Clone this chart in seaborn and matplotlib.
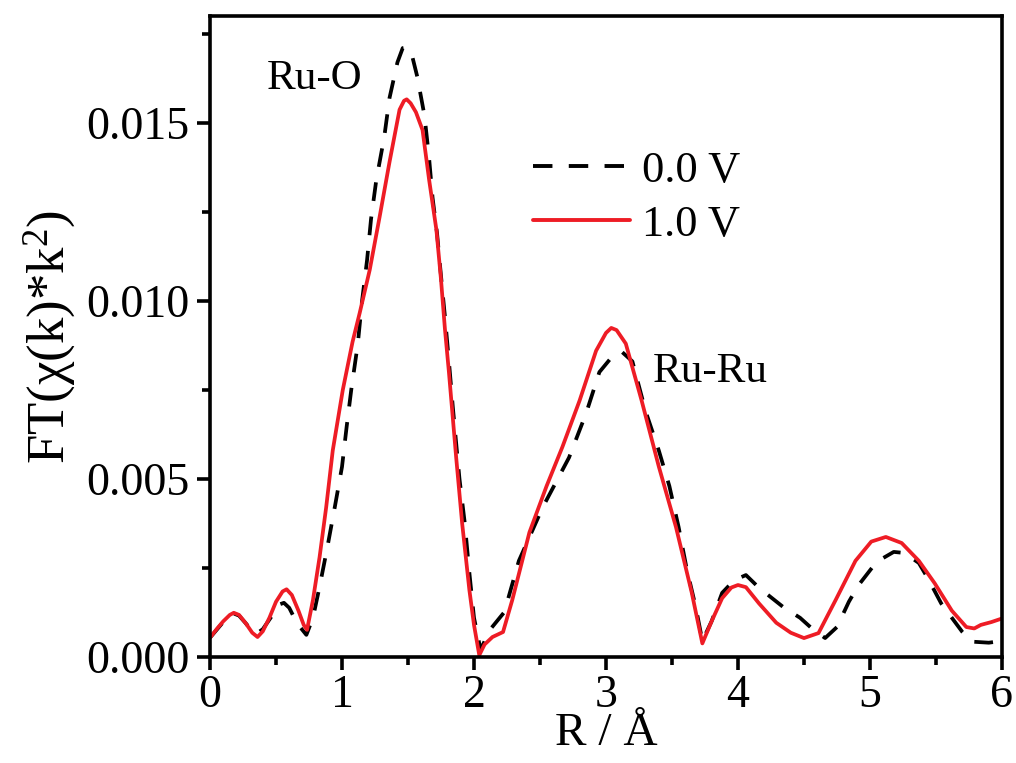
import numpy as np
import pandas as pd
import matplotlib
matplotlib.use("Agg")
import matplotlib.pyplot as plt
import seaborn as sns

# Fourier-transformed EXAFS magnitude, |FT(chi(k)*k^2)|, versus radial distance R (Å)
r_10v = [0.00, 0.05, 0.10, 0.15, 0.18, 0.22, 0.27, 0.32, 0.36, 0.40, 0.45, 0.50,
         0.55, 0.58, 0.62, 0.67, 0.71, 0.735, 0.78, 0.83, 0.88, 0.93, 1.006, 1.08,
         1.134, 1.21, 1.285, 1.36, 1.436, 1.47, 1.49, 1.52, 1.56, 1.61, 1.66, 1.715,
         1.75, 1.78, 1.81, 1.865, 1.91, 1.965, 2.00, 2.04, 2.08, 2.14, 2.22, 2.29,
         2.42, 2.55, 2.67, 2.80, 2.925, 3.00, 3.04, 3.08, 3.15, 3.27, 3.40, 3.53,
         3.65, 3.73, 3.80, 3.88, 3.95, 4.00, 4.06, 4.16, 4.29, 4.40, 4.50, 4.61,
         4.74, 4.89, 5.01, 5.12, 5.24, 5.37, 5.49, 5.62, 5.73, 5.79, 5.84, 5.92, 6.00]
ft_10v = [0.54, 0.78, 1.00, 1.18, 1.24, 1.18, 0.95, 0.68, 0.56, 0.72, 1.10, 1.55,
          1.84, 1.90, 1.74, 1.30, 0.90, 0.76, 1.60, 2.80, 4.20, 5.80, 7.50, 8.85,
          9.66, 10.87, 12.36, 13.90, 15.37, 15.62, 15.66, 15.55, 15.30, 14.80, 13.40, 12.00,
          10.60, 9.20, 8.00, 5.60, 3.76, 1.88, 0.90, 0.05, 0.35, 0.56, 0.70, 1.60,
          3.50, 4.80, 5.90, 7.20, 8.60, 9.10, 9.24, 9.18, 8.80, 7.20, 5.35, 3.65,
          1.80, 0.38, 1.00, 1.65, 1.95, 2.02, 1.96, 1.50, 0.96, 0.68, 0.53, 0.67,
          1.60, 2.70, 3.24, 3.37, 3.20, 2.70, 2.07, 1.30, 0.84, 0.80, 0.90, 0.98, 1.08]

r_00v = [0.00, 0.05, 0.10, 0.15, 0.18, 0.22, 0.27, 0.32, 0.355, 0.40, 0.45, 0.53,
         0.56, 0.60, 0.63, 0.68, 0.73, 0.78, 0.83, 0.89, 0.945, 1.00, 1.035, 1.07,
         1.12, 1.15, 1.19, 1.22, 1.26, 1.32, 1.36, 1.42, 1.46, 1.49, 1.53, 1.57,
         1.625, 1.66, 1.686, 1.72, 1.75, 1.78, 1.81, 1.84, 1.89, 1.93, 1.965, 2.00,
         2.05, 2.12, 2.23, 2.34, 2.52, 2.72, 2.85, 2.95, 3.05, 3.12, 3.20, 3.30,
         3.40, 3.48, 3.55, 3.61, 3.68, 3.73, 3.80, 3.88, 3.97, 4.06, 4.16, 4.35,
         4.47, 4.56, 4.66, 4.75, 4.84, 4.91, 5.05, 5.18, 5.26, 5.37, 5.44, 5.54,
         5.62, 5.70, 5.77, 5.90, 6.00]
ft_00v = [0.54, 0.76, 0.98, 1.16, 1.22, 1.16, 0.95, 0.72, 0.66, 0.78, 1.05, 1.48,
          1.52, 1.38, 1.16, 0.85, 0.62, 1.10, 1.97, 3.10, 4.20, 5.34, 6.46, 7.50,
          8.80, 9.94, 11.15, 12.30, 13.40, 14.60, 15.70, 16.70, 17.10, 17.12, 16.90, 16.30,
          15.20, 14.00, 12.90, 11.90, 10.70, 9.55, 8.30, 7.00, 5.00, 3.76, 2.36, 1.10,
          0.20, 0.76, 1.26, 2.70, 4.20, 5.60, 6.85, 8.00, 8.45, 8.57, 8.30, 6.90,
          5.80, 4.80, 3.65, 2.50, 1.40, 0.45, 1.00, 1.80, 2.15, 2.30, 1.94, 1.38,
          1.10, 0.80, 0.53, 0.84, 1.55, 2.00, 2.67, 2.95, 2.92, 2.64, 2.20, 1.50,
          1.10, 0.70, 0.43, 0.40, 0.45]

series_labels = ["0.0 V", "1.0 V"]
x_ticks = [0, 1, 2, 3, 4, 5, 6]
y_ticks = [0.000, 0.005, 0.010, 0.015]

df = pd.concat([
    pd.DataFrame({"R": r_00v, "FT": np.array(ft_00v) * 1e-3, "Potential": series_labels[0]}),
    pd.DataFrame({"R": r_10v, "FT": np.array(ft_10v) * 1e-3, "Potential": series_labels[1]}),
], ignore_index=True)

sns.set_style("ticks")
plt.rcParams["font.family"] = ["Liberation Serif", "DejaVu Serif"]
plt.rcParams["mathtext.fontset"] = "custom"
plt.rcParams["mathtext.rm"] = "Liberation Serif"
plt.rcParams["mathtext.it"] = "Liberation Serif:italic"
plt.rcParams["text.color"] = "black"
plt.rcParams["axes.labelcolor"] = "black"
plt.rcParams["xtick.color"] = "black"
plt.rcParams["ytick.color"] = "black"
plt.rcParams["lines.solid_joinstyle"] = "round"
plt.rcParams["lines.dash_joinstyle"] = "round"

fig = plt.figure(figsize=(10.16, 7.63), dpi=100)
ax = fig.add_axes([0.2067, 0.139, 0.7795, 0.840])

red = "#EE1C25"
sns.lineplot(data=df, x="R", y="FT", hue="Potential", style="Potential",
             palette={series_labels[0]: "black", series_labels[1]: red},
             dashes={series_labels[0]: (5, 4.2), series_labels[1]: ""},
             hue_order=series_labels, style_order=series_labels,
             sort=False, estimator=None, linewidth=2.7, ax=ax)

ax.set_xlim(0, 6)
ax.set_ylim(0, 0.018)
ax.set_xticks(x_ticks)
ax.set_xticks([0.5, 1.5, 2.5, 3.5, 4.5, 5.5], minor=True)
ax.set_yticks(y_ticks)
ax.set_yticks([0.0025, 0.0075, 0.0125, 0.0175], minor=True)
ax.set_yticklabels([f"{v:.3f}" for v in y_ticks])
ax.set_xticklabels([str(v) for v in x_ticks])

for side in ["left", "right", "top", "bottom"]:
    ax.spines[side].set_visible(True)
    ax.spines[side].set_linewidth(2.6)
    ax.spines[side].set_color("black")
ax.tick_params(which="major", direction="out", length=9.5, width=2.6,
               labelsize=33, pad=5, top=False, right=False)
ax.tick_params(axis="x", which="major", pad=3)
ax.tick_params(which="minor", direction="out", length=6, width=2.6,
               top=False, right=False)

ax.set_xlabel("R / Å", fontsize=34, labelpad=-3)
ax.set_ylabel("FT(χ(k)*k$^2$)", fontsize=38, labelpad=6)

ax.text(0.79, 0.01625, "Ru-O", fontsize=31, ha="center", va="center")
ax.text(3.79, 0.0080, "Ru-Ru", fontsize=31, ha="center", va="center")

leg = ax.legend(loc="upper left", bbox_to_anchor=(0.385, 0.818), frameon=False,
                fontsize=32, handlelength=2.2, handletextpad=0.25,
                labelspacing=0.32, borderaxespad=0)
for h in leg.get_lines():
    h.set_linewidth(2.8)

fig.savefig("out.png", dpi=100)
